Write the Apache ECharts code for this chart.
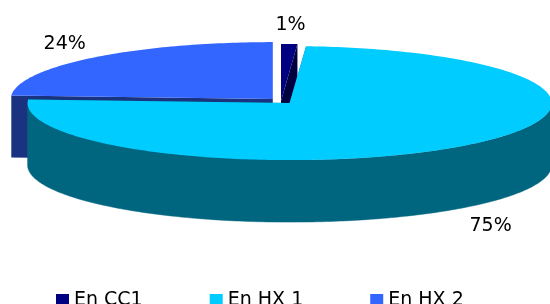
<!DOCTYPE html>
<html>
<head>
<meta charset="utf-8">
<script src="https://cdn.jsdelivr.net/npm/echarts@6/dist/echarts.min.js"></script>
<style>
  html, body { margin: 0; padding: 0; background: #fff; }
  #chart { width: 550px; height: 304px; }
</style>
</head>
<body>
<div id="chart"></div>
<script>
// data
const categories = ['En CC1', 'En HX 1', 'En HX 2'];
const values = [1, 75, 24];

// look
const topColors = ['#000080', '#00CCFF', '#3366FF'];
const sideColors = ['#000040', '#006680', '#1A3380'];
const explode = [0, 13, 12];
const drawOrder = [2, 0, 1]; // back to front

// pie geometry (fake 3d, projected ellipse)
const cx = 281, cy = 101, rx = 262, ry = 57, depth = 62, startAngle = 90;

const total = values.reduce((a, b) => a + b, 0);
const angles = [];
let acc = startAngle;
values.forEach(function (v) {
  const sweep = v / total * 360;
  angles.push({ from: acc, to: acc - sweep });
  acc -= sweep;
});

function pt(ox, oy, deg, dy) {
  const r = deg * Math.PI / 180;
  return [ox + rx * Math.cos(r), oy - ry * Math.sin(r) + (dy || 0)];
}

function arc(ox, oy, a1, a2, dy) {
  // a1 > a2, clockwise
  const pts = [];
  const n = Math.max(2, Math.ceil((a1 - a2) / 1));
  for (let k = 0; k <= n; k++) {
    pts.push(pt(ox, oy, a1 - (a1 - a2) * k / n, dy));
  }
  return pts;
}

function renderSlice(idx) {
  return function (params, api) {
    const a = angles[idx];
    const mid = (a.from + a.to) / 2 * Math.PI / 180;
    const e = explode[idx];
    const ox = cx + e * Math.cos(mid);
    const oy = cy - e * Math.sin(mid) * ry / rx;
    const children = [];

    // radial walls
    [a.from, a.to].forEach(function (t) {
      const p = pt(ox, oy, t);
      children.push({
        type: 'polygon',
        shape: { points: [[ox, oy], p, [p[0], p[1] + depth], [ox, oy + depth]] },
        style: { fill: sideColors[idx] }
      });
    });

    // outer side, only the front half
    for (let k = -2; k <= 1; k++) {
      const lo = Math.max(a.to, -180 + 360 * k);
      const hi = Math.min(a.from, 360 * k);
      if (hi > lo) {
        const top = arc(ox, oy, hi, lo, 0);
        const bot = arc(ox, oy, hi, lo, depth).reverse();
        children.push({
          type: 'polygon',
          shape: { points: top.concat(bot) },
          style: { fill: sideColors[idx], stroke: sideColors[idx], lineWidth: 0.5 }
        });
      }
    }

    // top face
    children.push({
      type: 'polygon',
      shape: { points: [[ox, oy]].concat(arc(ox, oy, a.from, a.to, 0)) },
      style: { fill: topColors[idx] }
    });

    // percent label
    const s = Math.sin(mid);
    const lx = ox + rx * 1.16 * Math.cos(mid);
    const ly = oy - ry * 1.37 * s + (s < 0 ? depth + 2 : 2);
    children.push({
      type: 'text',
      style: {
        text: Math.round(values[idx] / total * 100) + '%',
        x: lx, y: ly,
        font: '19px "DejaVu Sans"',
        fill: '#000',
        align: 'center',
        verticalAlign: 'middle'
      }
    });

    return { type: 'group', children: children };
  };
}

const chart = echarts.init(document.getElementById('chart'), null, { renderer: 'canvas' });

const series = drawOrder.map(function (idx, order) {
  return {
    name: categories[idx],
    type: 'custom',
    coordinateSystem: 'none',
    z: 2 + order,
    itemStyle: { color: topColors[idx] },
    renderItem: renderSlice(idx),
    data: [{ name: categories[idx], value: values[idx] }],
    silent: true
  };
});

chart.setOption({
  animation: false,
  legend: {
    data: categories,
    icon: 'rect',
    left: 51,
    top: 286,
    itemWidth: 13,
    itemHeight: 13,
    itemGap: 67,
    selectedMode: false,
    textStyle: { fontSize: 19, fontFamily: 'DejaVu Sans', color: '#000' }
  },
  series: series
});
</script>
</body>
</html>
